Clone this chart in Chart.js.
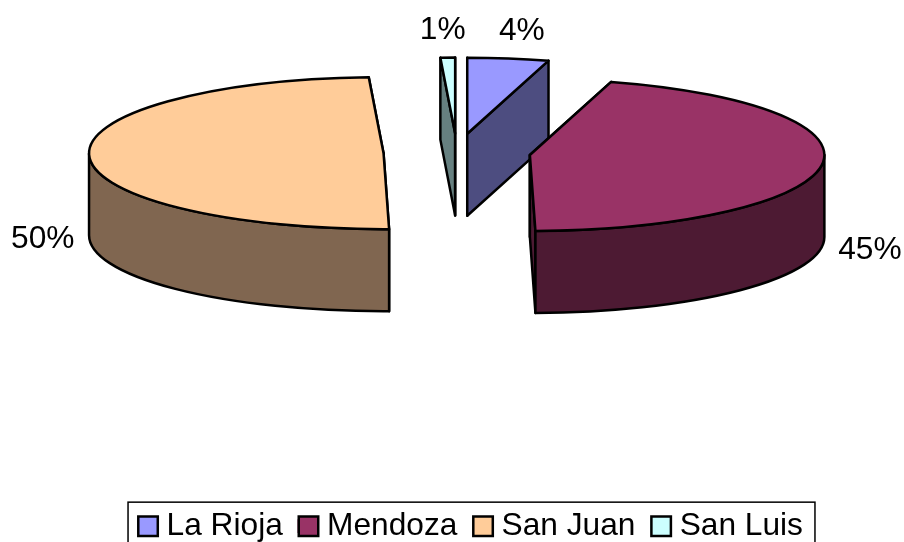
<!DOCTYPE html>
<html>
<head>
<meta charset="utf-8">
<style>html,body{margin:0;padding:0;background:#fff;overflow:hidden}#wrap{width:904px;height:542px}</style>
<script src="https://cdn.jsdelivr.net/npm/chart.js@4"></script>
</head>
<body>
<div id="wrap"><canvas id="c" width="904" height="542"></canvas></div>
<script>
const categories = ['La Rioja', 'Mendoza', 'San Juan', 'San Luis'];
const shares = [4.45, 45.25, 49.5, 0.8];
const topColors = ['#9999FF', '#993366', '#FFCC99', '#CCFFFF'];
const wallColors = ['#4D4D80', '#4D1A33', '#806650', '#668080'];

const FONT = '"Liberation Sans", Arial, sans-serif';
const FONT_SIZE = 31.7;
const VIEW = {cx: 457, cy: 152.5, rx: 294.5, ry: 76, depth: 82, explode: 73.5, line: 2.5};
const LABEL_NUDGE = [[13.5, -27], [48, 85], [-46.5, 83], [-5, -27.5]];

function sliceGeometry(arc) {
  const mid = (arc.startAngle + arc.endAngle) / 2;
  return {
    x: VIEW.cx + Math.cos(mid) * VIEW.explode,
    y: VIEW.cy + Math.sin(mid) * VIEW.explode * VIEW.ry / VIEW.rx,
    a0: arc.startAngle, a1: arc.endAngle, mid
  };
}

function paint(ctx, fill) {
  ctx.fillStyle = fill;
  ctx.fill();
  ctx.stroke();
}

function radialWall(ctx, g, a, fill) {
  const px = g.x + Math.cos(a) * VIEW.rx, py = g.y + Math.sin(a) * VIEW.ry;
  ctx.beginPath();
  ctx.moveTo(g.x, g.y);
  ctx.lineTo(px, py);
  ctx.lineTo(px, py + VIEW.depth);
  ctx.lineTo(g.x, g.y + VIEW.depth);
  ctx.closePath();
  paint(ctx, fill);
}

function outerWall(ctx, g, fill) {
  const TAU = Math.PI * 2;
  for (const shift of [0, TAU, -TAU]) {
    const from = Math.max(g.a0, shift), to = Math.min(g.a1, shift + Math.PI);
    if (to <= from) continue;
    ctx.beginPath();
    ctx.ellipse(g.x, g.y, VIEW.rx, VIEW.ry, 0, from, to);
    ctx.ellipse(g.x, g.y + VIEW.depth, VIEW.rx, VIEW.ry, 0, to, from, true);
    ctx.closePath();
    paint(ctx, fill);
  }
}

const pie3d = {
  id: 'pie3d',
  beforeDatasetsDraw(chart) {
    const ctx = chart.ctx;
    const arcs = chart.getDatasetMeta(0).data;
    ctx.save();
    ctx.lineWidth = VIEW.line;
    ctx.strokeStyle = '#000';
    ctx.lineJoin = 'round';
    arcs.forEach((arc, i) => {
      const g = sliceGeometry(arc);
      radialWall(ctx, g, g.a0, wallColors[i]);
      radialWall(ctx, g, g.a1, wallColors[i]);
      outerWall(ctx, g, wallColors[i]);
      ctx.save();
      ctx.translate(g.x, g.y);
      ctx.scale(VIEW.rx / arc.outerRadius, VIEW.ry / arc.outerRadius);
      ctx.translate(-arc.x, -arc.y);
      arc.draw(ctx);
      ctx.restore();
      ctx.beginPath();
      ctx.moveTo(g.x, g.y);
      ctx.ellipse(g.x, g.y, VIEW.rx, VIEW.ry, 0, g.a0, g.a1);
      ctx.closePath();
      ctx.stroke();
    });
    ctx.restore();
    return false;
  },
  afterDraw(chart) {
    const ctx = chart.ctx;
    const arcs = chart.getDatasetMeta(0).data;
    ctx.save();
    ctx.fillStyle = '#000';
    ctx.font = FONT_SIZE + 'px ' + FONT;
    ctx.textAlign = 'center';
    ctx.textBaseline = 'middle';
    arcs.forEach((arc, i) => {
      const g = sliceGeometry(arc);
      const x = g.x + Math.cos(g.mid) * VIEW.rx + LABEL_NUDGE[i][0];
      const y = g.y + Math.sin(g.mid) * VIEW.ry + LABEL_NUDGE[i][1];
      ctx.fillText(Math.round(shares[i]) + '%', x, y);
    });
    const boxes = chart.legend.legendHitBoxes;
    const last = boxes[boxes.length - 1];
    const midY = boxes[0].top + boxes[0].height / 2;
    ctx.strokeStyle = '#000';
    ctx.lineWidth = 1.5;
    ctx.strokeRect(boxes[0].left - 9, midY - 24, last.left + last.width + 12 - boxes[0].left + 9, 60);
    ctx.lineWidth = 2.5;
    boxes.forEach((b, i) => {
      ctx.fillStyle = topColors[i];
      ctx.beginPath();
      ctx.rect(b.left + 1.25, b.top + b.height / 2 - 9.75, 19.5, 19.5);
      ctx.fill();
      ctx.stroke();
    });
    ctx.restore();
  }
};

new Chart(document.getElementById('c'), {
  type: 'pie',
  data: {
    labels: categories,
    datasets: [{data: shares, backgroundColor: topColors, borderWidth: 0}]
  },
  options: {
    responsive: false,
    animation: false,
    layout: {padding: {left: 36, bottom: -10}},
    plugins: {
      tooltip: {enabled: false},
      legend: {
        position: 'bottom',
        labels: {
          boxWidth: 13.65, boxHeight: 13.65, padding: 14.7,
          color: '#000',
          font: {family: FONT, size: FONT_SIZE}
        }
      }
    }
  },
  plugins: [pie3d]
});
</script>
</body>
</html>
